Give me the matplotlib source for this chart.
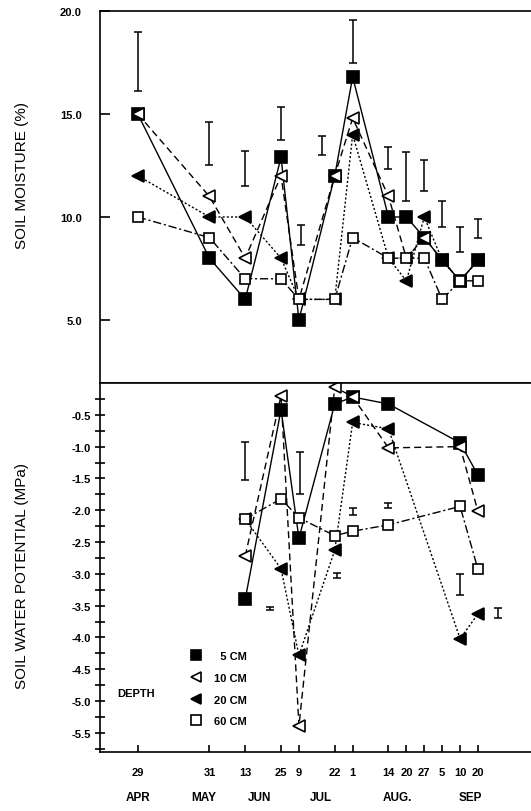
import matplotlib
matplotlib.use("Agg")
import numpy as np
import matplotlib.pyplot as plt
from matplotlib.lines import Line2D

plt.rcParams['font.family'] = ['Liberation Sans', 'DejaVu Sans']

# sampling dates (irregular slots along the x axis)
day_labels = ["29", "31", "13", "25", "9", "22", "1", "14", "20", "27", "5", "10", "20"]
date_slot = [0, 4, 6, 8, 9, 11, 12, 14, 15, 16, 17, 18, 19]
months = ["APR", "MAY", "JUN", "JUL", "AUG.", "SEP"]
month_slot = [0, 3.7, 6.8, 10.2, 14.5, 18.55]

# soil moisture (%) at every date
sm_5 = [15.0, 8.0, 6.0, 12.9, 5.0, 12.0, 16.8, 10.0, 10.0, 9.0, 7.9, 6.9, 7.9]
sm_10 = [15.0, 11.0, 8.0, 12.0, 6.0, 12.0, 14.8, 11.0, 8.0, 9.0, 7.9, 6.9, 7.9]
sm_20 = [12.0, 10.0, 10.0, 8.0, 6.0, 6.0, 14.0, 8.0, 6.9, 10.0, 7.9, 6.9, 7.9]
sm_60 = [10.0, 9.0, 7.0, 7.0, 6.0, 6.0, 9.0, 8.0, 8.0, 8.0, 6.0, 6.9, 6.9]

# moisture LSD bars
sm_bar_slot = [0, 4, 6, 8, 9.1, 10.3, 12, 14, 15, 16, 17, 18, 19]
sm_bar_lo = [16.1, 12.5, 11.5, 13.75, 8.65, 13.0, 17.5, 12.35, 10.8, 11.25, 9.5, 8.3, 9.0]
sm_bar_hi = [19.0, 14.6, 13.2, 15.35, 9.6, 13.95, 19.55, 13.4, 13.15, 12.75, 10.8, 9.5, 9.9]

# soil water potential (MPa), measured from 13 JUN on
wp_slot = [6, 8, 9, 11, 12, 14, 18, 19]
wp_5 = [-3.40, -0.42, -2.44, -0.33, -0.22, -0.33, -0.94, -1.45]
wp_10 = [-2.72, -0.20, -5.39, -0.06, -0.22, -1.02, -1.00, -2.02]
wp_20 = [-2.14, -2.92, -4.28, -2.63, -0.62, -0.72, -4.02, -3.63]
wp_60 = [-2.14, -1.82, -2.12, -2.40, -2.33, -2.23, -1.94, -2.93]

wp_bar_slot = [6, 7.4, 9.05, 11.1, 12, 14, 18, 20.1]
wp_bar_lo = [-1.52, -3.57, -1.74, -3.07, -2.07, -1.97, -3.34, -3.70]
wp_bar_hi = [-0.93, -3.52, -1.08, -2.98, -1.97, -1.89, -3.00, -3.54]

depth_labels = ["\u20075 CM", "10 CM", "20 CM", "60 CM"]
styles = [
    dict(marker="s", ls="-", mfc="black", ms=8.5),
    dict(marker="<", ls=(0, (5, 3)), mfc="white", ms=8.5),
    dict(marker="<", ls=(0, (1.5, 1.5)), mfc="black", ms=8.5),
    dict(marker="s", ls=(0, (6, 2, 1.5, 2)), mfc="white", ms=7.5),
]

fig = plt.figure(figsize=(5.31, 8.12), dpi=100)
ax1 = fig.add_axes([0.188, 0.5271, 0.812, 0.4581])
ax2 = fig.add_axes([0.188, 0.0727, 0.812, 0.4544], sharex=ax1)

x_top = np.array(date_slot)
for ys, st in zip([sm_5, sm_10, sm_20, sm_60], styles):
    ax1.plot(x_top, ys, color="black", lw=1.0, mec="black", mew=1.2, **st)
sm_lo = np.array(sm_bar_lo)
sm_hi = np.array(sm_bar_hi)
ax1.errorbar(sm_bar_slot, (sm_lo + sm_hi) / 2, yerr=(sm_hi - sm_lo) / 2,
             fmt="none", ecolor="black", elinewidth=1.1, capsize=3, capthick=1.1)

x_bot = np.array(wp_slot)
for ys, st in zip([wp_5, wp_10, wp_20, wp_60], styles):
    ax2.plot(x_bot, ys, color="black", lw=1.0, mec="black", mew=1.2, **st)
wp_lo = np.array(wp_bar_lo)
wp_hi = np.array(wp_bar_hi)
ax2.errorbar(wp_bar_slot, (wp_lo + wp_hi) / 2, yerr=(wp_hi - wp_lo) / 2,
             fmt="none", ecolor="black", elinewidth=1.1, capsize=3, capthick=1.1)

ax1.set_xlim(-2.12, 21.96)
ax1.set_ylim(1.94, 20)
ax2.set_ylim(-5.80, 0)

for ax in (ax1, ax2):
    ax.spines["right"].set_visible(False)
    for s in ax.spines.values():
        s.set_linewidth(1.2)

ax1.set_yticks([5, 10, 15, 20])
ax1.set_yticklabels(["5.0", "10.0", "15.0", "20.0"])
ax1.tick_params(axis="y", direction="in", length=7, width=1.2, pad=13, labelsize=8)
ax1.tick_params(axis="x", bottom=False, labelbottom=False)

ax2.set_yticks(np.arange(-5.5, 0, 0.5))
ax2.set_yticklabels([f"{v:.1f}" for v in np.arange(-5.5, 0, 0.5)])
ax2.set_yticks(np.arange(-5.75, 0, 0.25), minor=True)
ax2.tick_params(axis="y", which="both", direction="inout", length=7, width=1.2, pad=3, labelsize=8)

ax2.set_xticks(date_slot)
ax2.set_xticklabels(day_labels, fontweight="bold")
ax2.tick_params(axis="x", direction="in", length=5, width=1.2, pad=11, labelsize=8)
for lab in ax1.get_yticklabels() + ax2.get_yticklabels():
    lab.set_fontweight("bold")

for m, xm in zip(months, month_slot):
    ax2.text(xm, -0.122, m, transform=ax2.get_xaxis_transform(),
             ha="center", va="center", fontsize=8.5, fontweight="bold")

ax1.set_ylabel("SOIL MOISTURE (%)", fontsize=11)
ax1.yaxis.set_label_coords(-0.165, 0.56)
ax2.set_ylabel("SOIL WATER POTENTIAL (MPa)", fontsize=11)
ax2.yaxis.set_label_coords(-0.165, 0.48)

handles = [Line2D([], [], color="black", ls="none", mec="black", mew=1.2,
                  marker=st["marker"], mfc=st["mfc"], ms=6.5) for st in styles]
leg = ax2.legend(handles, depth_labels, loc="upper left", bbox_to_anchor=(0.19, 0.30),
                 frameon=False, handlelength=0.8, handletextpad=1.2, labelspacing=1.05,
                 prop={"size": 8, "weight": "bold"})
ax2.text(0.04, 0.16, "DEPTH", transform=ax2.transAxes, fontsize=8,
         fontweight="bold", ha="left", va="center")

fig.savefig("out.png", dpi=100)
